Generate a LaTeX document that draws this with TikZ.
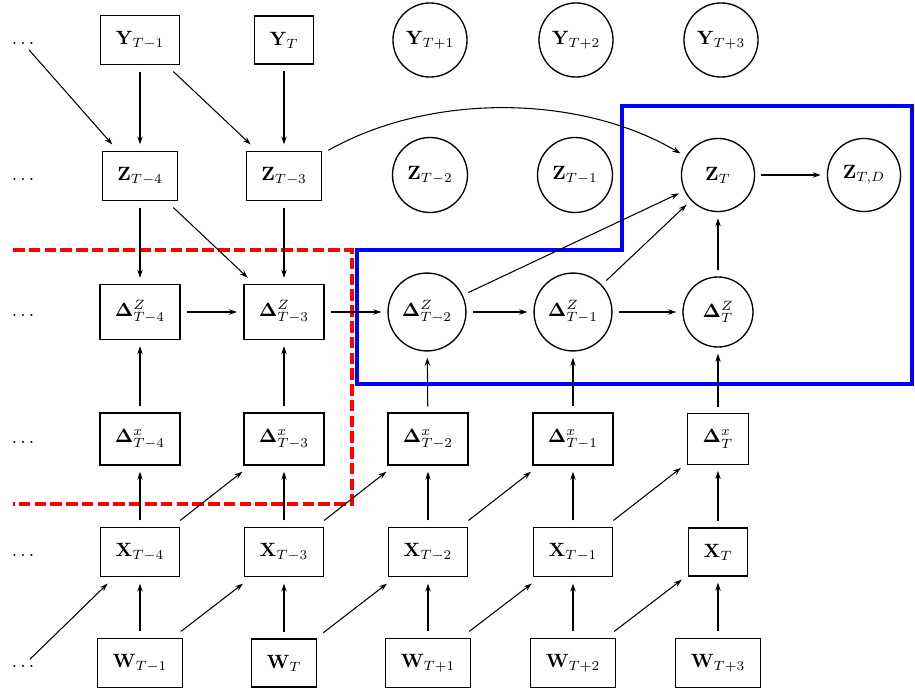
\documentclass[tikz,border=0pt]{standalone}
\usetikzlibrary{arrows.meta}
\begin{document}
\begin{tikzpicture}[x=0.52pt,y=-0.52pt,
  box/.style={draw,line width=0.7pt,inner xsep=7.8pt,inner ysep=8.3pt,outer sep=3.5pt},
  circ/.style={draw,circle,line width=0.7pt,inner sep=0pt,outer sep=3.5pt,minimum size=#1},
  circ/.default=39pt,
  dotsnode/.style={inner sep=1pt,outer sep=2pt},
  arr/.style={-{Stealth[length=4.2pt,width=2.8pt]},line width=0.55pt},
  redbox/.style={draw=red,line width=2.1pt,dash pattern=on 6pt off 2.2pt},
  bluebox/.style={draw=blue,line width=2.1pt},
]
\useasboundingbox (0,0) rectangle (915,692);

% dots
\node[dotsnode] (d1) at (23,43) {$\ldots$};
\node[dotsnode] (d2) at (23,179) {$\ldots$};
\node[dotsnode] (d3) at (23,315) {$\ldots$};
\node[dotsnode] (d4) at (23,442) {$\ldots$};
\node[dotsnode] (d5) at (23,555) {$\ldots$};
\node[dotsnode] (d6) at (23,666) {$\ldots$};

% Y row
\node[box] (y1) at (140,40) {$\mathbf{Y}_{T-1}$};
\node[box] (y2) at (284,40) {$\mathbf{Y}_{T}$};
\node[circ=38.5pt] (y3) at (430,40) {$\mathbf{Y}_{T+1}$};
\node[circ=38.5pt] (y4) at (576,40) {$\mathbf{Y}_{T+2}$};
\node[circ=38.5pt] (y5) at (721,40) {$\mathbf{Y}_{T+3}$};

% Z row
\node[box] (z1) at (140,176) {$\mathbf{Z}_{T-4}$};
\node[box] (z2) at (284,176) {$\mathbf{Z}_{T-3}$};
\node[circ] (z3) at (430,175) {$\mathbf{Z}_{T-2}$};
\node[circ] (z4) at (575,175) {$\mathbf{Z}_{T-1}$};
\node[circ=38pt] (z5) at (718,175) {$\mathbf{Z}_{T}$};
\node[circ=38pt] (z6) at (864,175) {$\mathbf{Z}_{T,D}$};

% Delta Z row
\node[box] (dz1) at (140,312) {$\mathbf{\Delta}^{Z}_{T-4}$};
\node[box] (dz2) at (284,312) {$\mathbf{\Delta}^{Z}_{T-3}$};
\node[circ=40.5pt] (dz3) at (427,312) {$\mathbf{\Delta}^{Z}_{T-2}$};
\node[circ=40.5pt] (dz4) at (573,312) {$\mathbf{\Delta}^{Z}_{T-1}$};
\node[circ=36.4pt] (dz5) at (718,312) {$\mathbf{\Delta}^{Z}_{T}$};

% Delta x row
\node[box] (dx1) at (140,439) {$\mathbf{\Delta}^{x}_{T-4}$};
\node[box] (dx2) at (284,439) {$\mathbf{\Delta}^{x}_{T-3}$};
\node[box] (dx3) at (428,439) {$\mathbf{\Delta}^{x}_{T-2}$};
\node[box] (dx4) at (573,439) {$\mathbf{\Delta}^{x}_{T-1}$};
\node[box] (dx5) at (718,439) {$\mathbf{\Delta}^{x}_{T}$};

% X row
\node[box] (x1) at (140,552) {$\mathbf{X}_{T-4}$};
\node[box] (x2) at (284,552) {$\mathbf{X}_{T-3}$};
\node[box] (x3) at (428,552) {$\mathbf{X}_{T-2}$};
\node[box] (x4) at (573,552) {$\mathbf{X}_{T-1}$};
\node[box] (x5) at (718,552) {$\mathbf{X}_{T}$};

% W row
\node[box] (w1) at (140,663) {$\mathbf{W}_{T-1}$};
\node[box] (w2) at (284,663) {$\mathbf{W}_{T}$};
\node[box] (w3) at (428,663) {$\mathbf{W}_{T+1}$};
\node[box] (w4) at (573,663) {$\mathbf{W}_{T+2}$};
\node[box] (w5) at (718,663) {$\mathbf{W}_{T+3}$};

% regions
\draw[redbox] (13,250) -- (352,250) -- (352,504) -- (13,504);
\draw[bluebox] (357,250) -- (622,250) -- (622,106) -- (912,106) -- (912,384) -- (357,384) -- cycle;

% arrows top
\draw[arr] (d1) -- (z1);
\draw[arr] (y1) -- (z1);
\draw[arr] (y1) -- (z2);
\draw[arr] (y2) -- (z2);
\draw[arr] (z2) to[bend left=30,looseness=0.85] (z5);
\draw[arr] (z1) -- (dz1);
\draw[arr] (z1) -- (dz2);
\draw[arr] (z2) -- (dz2);
\draw[arr] (dz1) -- (dz2);
\draw[arr] (dz2) -- (dz3);
\draw[arr] (dz3) -- (dz4);
\draw[arr] (dz4) -- (dz5);
\draw[arr] (dz3) -- (z5);
\draw[arr] (dz4) -- (z5);
\draw[arr] (dz5) -- (z5);
\draw[arr] (z5) -- (z6);

\foreach \i in {1,...,5}{
  \draw[arr] (dx\i) -- (dz\i);
  \draw[arr] (x\i) -- (dx\i);
  \draw[arr] (w\i) -- (x\i);
}
\foreach \i/\j in {1/2,2/3,3/4,4/5}{
  \draw[arr] (x\i) -- (dx\j);
  \draw[arr] (w\i) -- (x\j);
}
\draw[arr] (d6) -- (x1);
\end{tikzpicture}
\end{document}
